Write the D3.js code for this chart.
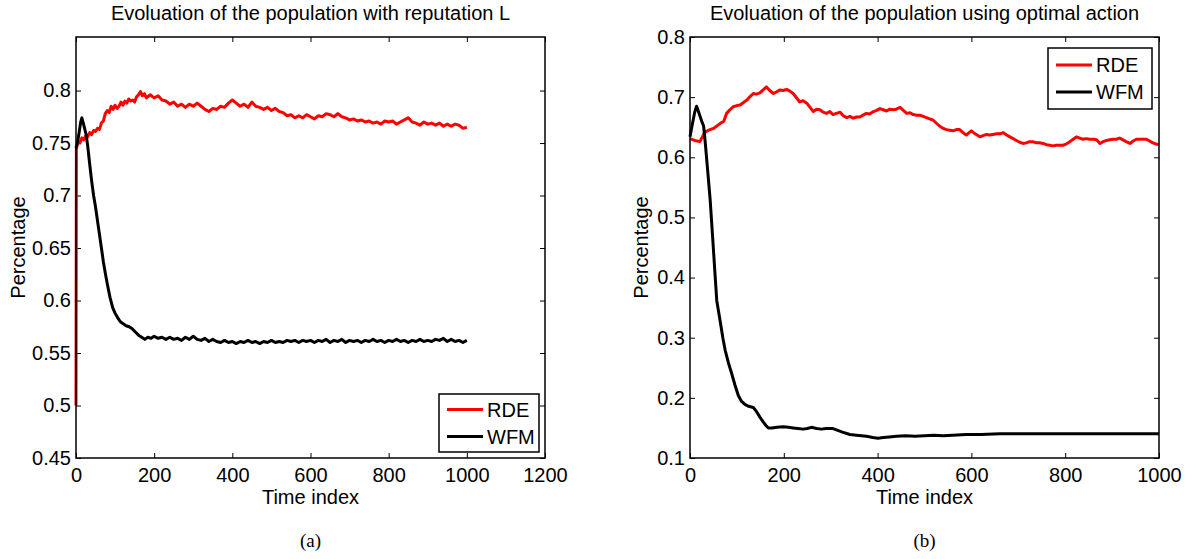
<!DOCTYPE html>
<html>
<head>
<meta charset="utf-8">
<script src="https://cdn.jsdelivr.net/npm/d3@7"></script>
<style>
  body { margin: 0; background: #fff; }
  svg { display: block; }
  text { font-family: "Liberation Sans", Arial, Helvetica, sans-serif; }
</style>
</head>
<body>
<div id="chart"></div>
<script>
// data: [time index, percentage]
const rdeA = [[0,.500],[1,.745],[5,.751],[10,.750],[15,.755],[20,.753],[25,.757],[30,.756],[35,.760],[40,.758],[45,.762],[50,.761],[55,.764],[60,.763],[65,.769],[70,.771],[75,.778],[80,.781],[85,.779],[90,.785],[95,.782],[100,.786],[105,.783],[110,.785],[115,.789],[120,.786],[125,.790],[130,.788],[135,.792],[140,.790],[145,.791],[150,.789],[155,.794],[160,.796],[165,.799],[170,.795],[175,.797],[180,.793],[190,.796],[200,.793],[210,.795],[220,.791],[230,.790],[240,.787],[250,.789],[260,.785],[270,.787],[280,.784],[290,.787],[300,.785],[310,.788],[320,.785],[330,.782],[340,.780],[350,.783],[360,.782],[370,.785],[380,.784],[390,.788],[400,.791],[410,.788],[420,.785],[430,.787],[440,.784],[450,.789],[460,.785],[470,.784],[480,.782],[490,.784],[500,.781],[510,.783],[520,.780],[530,.779],[540,.776],[550,.777],[560,.774],[570,.776],[580,.774],[590,.777],[600,.775],[610,.773],[620,.776],[630,.775],[640,.778],[650,.777],[660,.775],[670,.778],[680,.775],[690,.774],[700,.772],[710,.773],[720,.771],[730,.772],[740,.770],[750,.771],[760,.769],[770,.770],[780,.768],[790,.771],[800,.770],[810,.771],[820,.768],[830,.770],[840,.772],[850,.774],[860,.770],[870,.769],[880,.767],[890,.770],[900,.768],[910,.769],[920,.767],[930,.769],[940,.766],[950,.768],[960,.766],[970,.768],[980,.767],[990,.764],[1000,.765]];

const wfmA = [[0,.745],[4,.751],[8,.760],[12,.770],[15,.774],[18,.770],[22,.764],[26,.758],[30,.747],[35,.730],[40,.714],[45,.700],[50,.689],[55,.676],[60,.663],[65,.650],[70,.637],[75,.626],[80,.616],[87,.603],[94,.593],[100,.588],[106,.584],[113,.580],[120,.578],[128,.576],[136,.575],[144,.573],[152,.570],[160,.567],[168,.565],[176,.563],[184,.565],[192,.564],[200,.566],[210,.564],[220,.565],[230,.563],[240,.565],[250,.563],[260,.564],[270,.562],[280,.565],[290,.563],[300,.566],[310,.563],[320,.562],[330,.564],[340,.561],[350,.563],[360,.561],[370,.560],[380,.562],[390,.560],[400,.561],[410,.559],[420,.561],[430,.560],[440,.562],[450,.560],[460,.561],[470,.559],[480,.561],[490,.560],[500,.562],[510,.560],[520,.561],[530,.560],[540,.562],[550,.561],[560,.562],[570,.560],[580,.562],[590,.561],[600,.562],[610,.560],[620,.562],[630,.561],[640,.563],[650,.560],[660,.562],[670,.561],[680,.563],[690,.560],[700,.562],[710,.561],[720,.562],[730,.560],[740,.562],[750,.561],[760,.563],[770,.561],[780,.562],[790,.560],[800,.562],[810,.561],[820,.563],[830,.561],[840,.562],[850,.560],[860,.562],[870,.561],[880,.563],[890,.561],[900,.562],[910,.561],[920,.563],[930,.562],[940,.564],[950,.561],[960,.563],[970,.561],[980,.562],[990,.560],[1000,.562]];

const rdeB = [[0,.631],[10,.628],[21,.626],[32,.642],[40,.645],[50,.648],[64,.656],[72,.660],[78,.673],[85,.679],[92,.684],[100,.686],[107,.687],[114,.691],[121,.695],[128,.701],[135,.706],[142,.705],[149,.707],[156,.712],[163,.717],[170,.711],[178,.706],[185,.709],[192,.712],[199,.711],[206,.713],[213,.710],[220,.706],[227,.699],[234,.692],[241,.694],[249,.690],[256,.683],[263,.676],[270,.680],[277,.679],[284,.675],[291,.673],[298,.676],[305,.671],[312,.673],[320,.675],[327,.669],[334,.666],[341,.668],[348,.665],[355,.667],[362,.667],[369,.670],[376,.673],[383,.672],[391,.676],[398,.678],[405,.681],[412,.679],[419,.677],[426,.680],[433,.679],[440,.680],[448,.683],[455,.678],[462,.673],[469,.674],[476,.671],[483,.670],[490,.670],[497,.668],[504,.666],[511,.664],[518,.662],[525,.657],[532,.652],[540,.648],[547,.646],[554,.645],[561,.644],[568,.646],[575,.646],[582,.641],[589,.637],[595,.641],[600,.644],[608,.639],[618,.634],[625,.636],[632,.638],[639,.637],[646,.638],[654,.639],[661,.639],[668,.641],[675,.637],[682,.634],[689,.631],[696,.628],[703,.625],[710,.623],[717,.624],[724,.626],[731,.626],[738,.624],[745,.624],[753,.623],[760,.621],[767,.620],[774,.619],[781,.620],[788,.620],[795,.620],[802,.622],[810,.626],[817,.630],[824,.634],[831,.632],[838,.630],[845,.631],[852,.630],[860,.630],[867,.629],[874,.623],[881,.626],[888,.628],[895,.629],[902,.630],[909,.630],[916,.632],[923,.629],[930,.626],[938,.623],[945,.627],[952,.630],[959,.630],[966,.630],[973,.630],[980,.627],[987,.624],[994,.622],[1000,.621]];

const wfmB = [[0,.634],[5,.655],[10,.675],[14,.685],[18,.676],[25,.660],[29,.652],[33,.620],[38,.575],[43,.529],[48,.470],[53,.410],[57,.362],[64,.329],[70,.300],[75,.279],[82,.258],[89,.240],[96,.221],[103,.204],[110,.194],[117,.189],[125,.186],[135,.184],[142,.177],[149,.168],[156,.160],[162,.154],[167,.150],[175,.150],[185,.151],[199,.152],[210,.151],[220,.150],[230,.149],[241,.148],[250,.149],[259,.151],[270,.149],[280,.148],[290,.149],[305,.149],[315,.146],[325,.143],[341,.139],[355,.138],[376,.136],[390,.134],[401,.133],[412,.134],[425,.135],[440,.136],[460,.137],[480,.136],[500,.137],[520,.138],[540,.137],[560,.138],[589,.139],[620,.139],[661,.1405],[700,.1405],[800,.1405],[900,.1405],[1000,.1405]];

const xTicksA = [0, 200, 400, 600, 800, 1000, 1200];
const yTicksA = [0.45, 0.5, 0.55, 0.6, 0.65, 0.7, 0.75, 0.8];
const xTicksB = [0, 200, 400, 600, 800, 1000];
const yTicksB = [0.1, 0.2, 0.3, 0.4, 0.5, 0.6, 0.7, 0.8];

const seriesNames = ["RDE", "WFM"];
const seriesColors = ["#ff0000", "#000000"];

const width = 1199, height = 559;
const svg = d3.select("#chart").append("svg")
    .attr("width", width)
    .attr("height", height);

const fontSize = 20;

function drawPanel(opts) {
    const { left, right, top, bottom } = opts.box;
    const x = d3.scaleLinear().domain(opts.xDomain).range([left, right]);
    const y = d3.scaleLinear().domain(opts.yDomain).range([bottom, top]);
    const g = svg.append("g");
    const fmt = d => String(+d.toFixed(2));

    // axes, ticks pointing inward like matlab
    g.append("g")
        .attr("transform", `translate(0,${bottom})`)
        .call(d3.axisBottom(x).tickValues(opts.xTicks).tickSize(-5).tickPadding(10).tickFormat(fmt));
    g.append("g")
        .attr("transform", `translate(${left},0)`)
        .call(d3.axisLeft(y).tickValues(opts.yTicks).tickSize(-5).tickPadding(5).tickFormat(fmt));
    g.append("g")
        .attr("transform", `translate(0,${top})`)
        .call(d3.axisTop(x).tickValues(opts.xTicks).tickSize(-5).tickFormat(""));
    g.append("g")
        .attr("transform", `translate(${right},0)`)
        .call(d3.axisRight(y).tickValues(opts.yTicks).tickSize(-5).tickFormat(""));

    g.selectAll(".domain").remove();
    g.selectAll(".tick line").attr("stroke", "#000").attr("stroke-width", 1);
    g.selectAll(".tick text")
        .attr("fill", "#000")
        .style("font-size", fontSize + "px")
        .style("font-family", '"Liberation Sans", Arial, sans-serif');

    const line = d3.line()
        .x(d => x(d[0]))
        .y(d => y(d[1]));

    opts.series.forEach((s, i) => {
        g.append("path")
            .datum(s)
            .attr("fill", "none")
            .attr("stroke", seriesColors[i])
            .attr("stroke-width", 3)
            .attr("stroke-linejoin", "round")
            .attr("d", line);
    });

    // frame
    g.append("rect")
        .attr("x", left).attr("y", top)
        .attr("width", right - left).attr("height", bottom - top)
        .attr("fill", "none").attr("stroke", "#000").attr("stroke-width", 1.5);

    // titles and labels
    const cx = (left + right) / 2;
    g.append("text")
        .attr("x", cx).attr("y", 20)
        .attr("text-anchor", "middle")
        .style("font-size", fontSize + "px")
        .text(opts.title);
    g.append("text")
        .attr("x", cx).attr("y", 504)
        .attr("text-anchor", "middle")
        .style("font-size", fontSize + "px")
        .text("Time index");
    g.append("text")
        .attr("transform", `translate(${opts.yLabelX},${(top + bottom) / 2}) rotate(-90)`)
        .attr("text-anchor", "middle")
        .style("font-size", fontSize + "px")
        .text("Percentage");
    g.append("text")
        .attr("x", cx).attr("y", 547)
        .attr("text-anchor", "middle")
        .style("font-family", '"Liberation Serif", "Times New Roman", serif')
        .style("font-size", "19px")
        .text(opts.caption);

    // legend
    const lg = opts.legend;
    const leg = g.append("g");
    leg.append("rect")
        .attr("x", lg.x).attr("y", lg.y)
        .attr("width", lg.w).attr("height", lg.h)
        .attr("fill", "#fff").attr("stroke", "#000").attr("stroke-width", 1.5);
    seriesNames.forEach((name, i) => {
        const ly = lg.y + lg.h / 2 + (i - 0.5) * 27;
        leg.append("line")
            .attr("x1", lg.x + 8).attr("x2", lg.x + 44)
            .attr("y1", ly).attr("y2", ly)
            .attr("stroke", seriesColors[i]).attr("stroke-width", 3);
        leg.append("text")
            .attr("x", lg.x + 48).attr("y", ly)
            .attr("dy", "0.36em")
            .style("font-size", fontSize + "px")
            .text(name);
    });
}

drawPanel({
    box: { left: 76, right: 545, top: 37, bottom: 458 },
    xDomain: [0, 1200], yDomain: [0.45, 0.851],
    xTicks: xTicksA, yTicks: yTicksA,
    series: [rdeA, wfmA],
    title: "Evoluation of the population with reputation L",
    caption: "(a)",
    yLabelX: 25,
    legend: { x: 439, y: 394, w: 100, h: 58 }
});

drawPanel({
    box: { left: 690, right: 1159, top: 37, bottom: 458 },
    xDomain: [0, 1000], yDomain: [0.1, 0.8],
    xTicks: xTicksB, yTicks: yTicksB,
    series: [rdeB, wfmB],
    title: "Evoluation of the population using optimal action",
    caption: "(b)",
    yLabelX: 648,
    legend: { x: 1048, y: 48, w: 104, h: 61 }
});
</script>
</body>
</html>
